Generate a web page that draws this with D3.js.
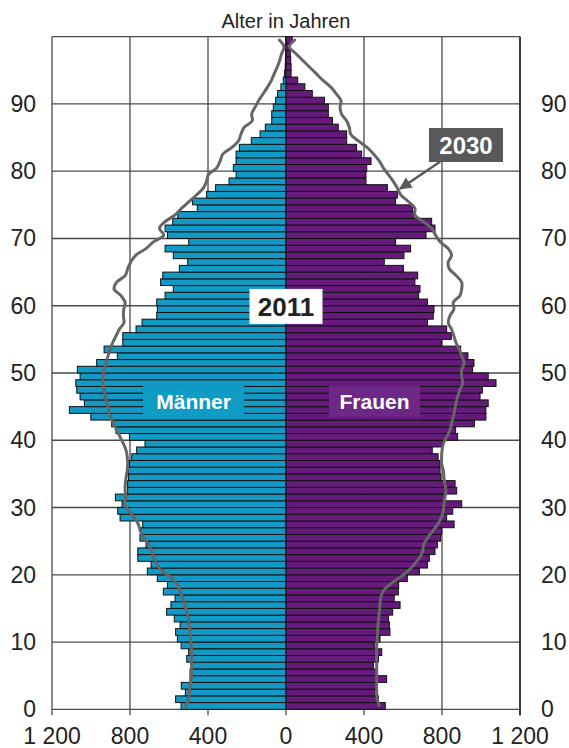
<!DOCTYPE html>
<html><head><meta charset="utf-8">
<script src="https://cdn.jsdelivr.net/npm/d3@7"></script>
<style>
html,body{margin:0;padding:0;background:#fff;}
svg{display:block;font-family:"Liberation Sans",Arial,sans-serif;}
</style></head>
<body>
<svg id="chart" width="569" height="748"></svg>
<script>
// Ages 0..99 (index = age), values in thousands
const ages = d3.range(0, 100);
const men2011 = [538,566,516,537,492,492,480,509,499,538,
557,566,543,573,612,590,569,629,608,660,
711,692,760,760,718,749,743,735,851,863,
841,875,812,812,808,808,803,791,766,723,
803,872,894,1001,1111,1034,1056,1073,1078,1056,
1070,971,865,933,837,837,769,738,663,660,
663,620,578,643,632,547,504,578,620,499,
608,620,581,555,455,479,407,361,292,256,
270,256,256,239,178,133,106,73,73,65,
53,43,26,14,8,4,3,2,1,1];
const women2011 = [509,474,456,462,516,460,448,474,491,453,
482,533,530,525,547,585,555,576,578,622,
684,725,735,764,776,793,798,862,824,855,
901,815,875,867,793,790,790,780,750,802,
880,870,966,1025,1025,1037,995,1007,1077,1037,
957,964,933,896,798,848,824,725,755,759,
725,680,687,661,675,602,504,605,639,562,
718,764,747,656,649,562,571,520,410,410,
414,436,388,362,311,311,268,238,217,217,
197,135,97,60,26,26,24,22,19,32];
const men2030 = [516,499,496,492,487,484,484,484,484,485,
489,492,496,501,509,518,530,543,557,584,
634,661,677,689,706,730,747,757,778,807,
829,822,825,824,820,814,812,814,820,834,
851,868,885,901,909,918,926,933,940,937,
933,923,913,902,889,872,855,831,834,832,
825,846,882,868,824,812,796,771,718,680,
627,649,620,569,535,496,458,424,407,398,
355,338,325,279,244,231,215,173,176,159,
140,118,95,75,60,45,32,22,10,34];
const women2030 = [479,468,465,465,465,465,465,465,465,465,
468,470,472,475,479,482,485,497,530,579,
624,656,684,701,706,726,752,778,796,807,
810,815,820,815,810,807,798,798,800,807,
824,841,849,858,865,872,880,892,906,901,
901,914,901,889,872,861,849,832,841,861,
858,892,901,901,872,837,832,849,832,790,
767,747,704,661,661,627,588,571,550,525,
499,479,451,417,371,332,325,311,285,277,
282,258,230,190,155,120,85,50,17,45];
const xTicks = [-1200,-800,-400,0,400,800,1200];
const yTicks = [0,10,20,30,40,50,60,70,80,90];
const title = "Alter in Jahren";
const labelMen = "Männer", labelWomen = "Frauen";
const label2011 = "2011", label2030 = "2030";

const svg = d3.select("#chart");
const x = d3.scaleLinear().domain([-1200,1200]).range([52,520]);
const y = d3.scaleLinear().domain([0,100]).range([709.3,36.7]);

const cMen = "#129ac4", cWomen = "#661a7c";
const gridC = "#4a4a4a";

// grid
const g = svg.append("g");
g.selectAll("line.v").data(xTicks).join("line")
  .attr("x1", d=>x(d)).attr("x2", d=>x(d))
  .attr("y1", y(100)).attr("y2", y(0)+6)
  .attr("stroke", gridC).attr("stroke-width", 1.3);
g.selectAll("line.h").data(d3.range(0,101,10)).join("line")
  .attr("x1", x(-1200)).attr("x2", x(1200))
  .attr("y1", d=>y(d)).attr("y2", d=>y(d))
  .attr("stroke", gridC).attr("stroke-width", 1.3);
svg.append("line").attr("x1",x(1200)).attr("x2",x(1200)).attr("y1",y(100)).attr("y2",y(0)+6)
  .attr("stroke","#333").attr("stroke-width",1.8);

// bars
const bars = svg.append("g");
bars.selectAll("rect.m").data(ages).join("rect")
  .attr("x", a=>x(-men2011[a])).attr("width", a=>x(0)-x(-men2011[a]))
  .attr("y", a=>y(a+1)).attr("height", a=>y(a)-y(a+1))
  .attr("fill", cMen).attr("stroke", "#111").attr("stroke-width", 1);
bars.selectAll("rect.w").data(ages).join("rect")
  .attr("x", x(0)).attr("width", a=>x(women2011[a])-x(0))
  .attr("y", a=>y(a+1)).attr("height", a=>y(a)-y(a+1))
  .attr("fill", cWomen).attr("stroke", "#111").attr("stroke-width", 1);

// 2030 lines
const lineM = d3.line().x(a=>x(-men2030[a])).y(a=>y(a+0.5)).curve(d3.curveCatmullRom);
const lineW = d3.line().x(a=>x(women2030[a])).y(a=>y(a+0.5)).curve(d3.curveCatmullRom);
[lineM, lineW].forEach(l=>{
  svg.append("path").attr("d", l(ages)).attr("fill","none")
    .attr("stroke","#666").attr("stroke-width",3).attr("stroke-linejoin","round").attr("stroke-linecap","round");
});

// axis labels
const fmt = v => { const s = String(Math.abs(v)); return s.length>3 ? s.slice(0,-3)+" "+s.slice(-3) : s; };
svg.selectAll("text.xt").data(xTicks).join("text")
  .attr("x", d=>x(d)).attr("y", 743.5).attr("text-anchor","middle")
  .attr("font-size", 23).attr("fill","#222").text(fmt);
svg.selectAll("text.yl").data(yTicks).join("text")
  .attr("x", 36).attr("y", d=>y(d)+8).attr("text-anchor","end")
  .attr("font-size", 23).attr("fill","#222").text(d=>d);
svg.selectAll("text.yr").data(yTicks).join("text")
  .attr("x", 541).attr("y", d=>y(d)+8).attr("text-anchor","start")
  .attr("font-size", 23).attr("fill","#222").text(d=>d);
svg.append("text").attr("x", x(0)).attr("y", 28).attr("text-anchor","middle")
  .attr("font-size", 20).attr("fill","#222").text(title);

// label boxes
function box(cx, cy, w, h, fill, txt, tcol, fs){
  svg.append("rect").attr("x", cx-w/2).attr("y", cy-h/2).attr("width", w).attr("height", h).attr("fill", fill);
  svg.append("text").attr("x", cx).attr("y", cy+fs*0.36).attr("text-anchor","middle")
    .attr("font-weight","bold").attr("font-size", fs).attr("fill", tcol).text(txt);
}
box(x(-474), y(45.8), 101, 31, "#0e9cc4", labelMen, "#fff", 21);
box(x(454), y(45.8), 91, 31, "#6d2787", labelWomen, "#fff", 21);
box(x(0), y(59.9), 73, 35, "#fff", label2011, "#222", 26);

// arrow 2030
svg.append("defs").append("marker").attr("id","ah").attr("viewBox","0 0 10 10")
  .attr("refX",9).attr("refY",5).attr("markerWidth",5).attr("markerHeight",5).attr("orient","auto")
  .append("path").attr("d","M0,0 L10,5 L0,10 z").attr("fill","#5a5a5a");
svg.append("line").attr("x1", x(790)).attr("y1", y(81.4)).attr("x2", x(585)).attr("y2", y(77.4))
  .attr("stroke","#5a5a5a").attr("stroke-width",2.5).attr("marker-end","url(#ah)");
box(x(923), y(83.9), 74, 34, "#58595b", label2030, "#fff", 24);
</script>
</body></html>
